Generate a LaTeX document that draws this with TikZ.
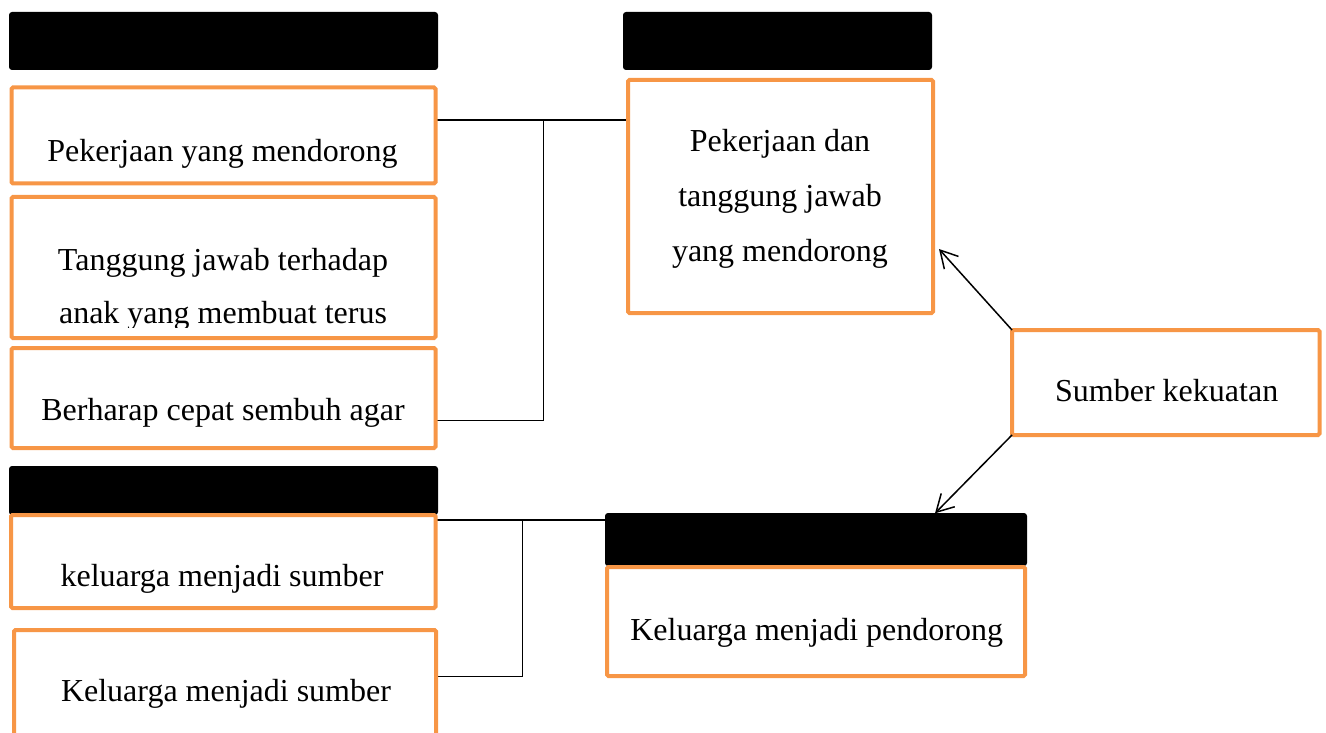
\documentclass[tikz,border=0pt]{standalone}
\usepackage{fontspec}
\setmainfont{Liberation Serif}
\usetikzlibrary{arrows.meta}
\definecolor{orng}{HTML}{F79646}
\tikzset{
  obox/.style={draw=orng, fill=white, line width=4pt, rounded corners=1.5pt, outer sep=0pt, inner sep=0pt, anchor=north west},
  hdr/.style={fill=black, rounded corners=3pt, outer sep=0pt, inner sep=0pt, anchor=north west},
  txt/.style={font=\fontsize{32}{40}\selectfont, anchor=base, inner sep=0pt, text=black},
  conn/.style={line width=1.5pt, draw=black},
  arr/.style={line width=1.5pt, draw=black, -{Straight Barb[length=17pt,width=19pt,line width=1.5pt]}}
}
\begin{document}
\begin{tikzpicture}[x=1pt,y=-1pt]
\useasboundingbox (0,0) rectangle (1326,733);
% junction coordinates
\coordinate (j1) at (543.3,120);
\coordinate (j2) at (543.3,420.7);
\coordinate (j3) at (522.5,520);
\coordinate (j4) at (522.5,676.7);
\coordinate (a1) at (939,249);
\coordinate (a2) at (935,513.3);

% headers
\node[hdr, minimum width=429pt, minimum height=58pt] (h1) at (9,12) {};
\node[hdr, minimum width=309pt, minimum height=58pt] (h2) at (623,12) {};
\node[hdr, minimum width=429pt, minimum height=49pt] (h3) at (9,466) {};
\node[hdr, minimum width=422pt, minimum height=53pt] (h4) at (605,513) {};

% connectors (drawn beneath boxes)
\draw[conn] (435.5,120) coordinate (c1) -- (j1) -- (628,120) coordinate (c2);
\draw[conn] (j1) -- (j2) -- (435.5,420.7) coordinate (c3);
\draw[conn] (435.5,520) coordinate (c4) -- (j3) -- (h4.west |- j3);
\draw[conn] (j3) -- (j4) -- (436,676.7) coordinate (c5);

% orange boxes
\node[obox, minimum width=424pt, minimum height=96pt] (b1) at (11.5,87.5) {};
\node[obox, minimum width=424pt, minimum height=141pt] (b2) at (11.5,197) {};
\node[obox, minimum width=424pt, minimum height=100pt] (b3) at (11.5,348) {};
\node[obox, minimum width=305pt, minimum height=233pt] (b4) at (628,80) {};
\node[obox, minimum width=307.5pt, minimum height=105pt] (b5) at (1012,330) {};
\node[obox, minimum width=424.5pt, minimum height=93pt] (b6) at (11,515) {};
\node[obox, minimum width=422pt, minimum height=120pt] (b7) at (14,630) {};
\node[obox, minimum width=418pt, minimum height=109pt] (b8) at (607,567) {};

% texts
\node[txt] (t1) at (222.5,161.7) {Pekerjaan yang mendorong};
\begin{scope}
\clip (13.5,199) rectangle (433.5,327);
\node[txt] (t2a) at (223,270) {Tanggung jawab terhadap};
\node[txt] (t2b) at (223,323.5) {anak yang membuat terus};
\end{scope}
\node[txt] (t3) at (223,420) {Berharap cepat sembuh agar};
\node[txt] (t4a) at (780,151.7) {Pekerjaan dan};
\node[txt] (t4b) at (780,206.7) {tanggung jawab};
\node[txt] (t4c) at (780,261.7) {yang mendorong};
\node[txt] (t5) at (1166.7,401.7) {Sumber kekuatan};
\node[txt] (t6) at (222,586.7) {keluarga menjadi sumber};
\node[txt] (t7) at (226,701.7) {Keluarga menjadi sumber};
\node[txt] (t8) at (816.7,640) {Keluarga menjadi pendorong};

% arrows
\draw[arr] (b5.north west) -- (a1);
\draw[arr] (b5.south west) -- (a2);
\end{tikzpicture}
\end{document}
